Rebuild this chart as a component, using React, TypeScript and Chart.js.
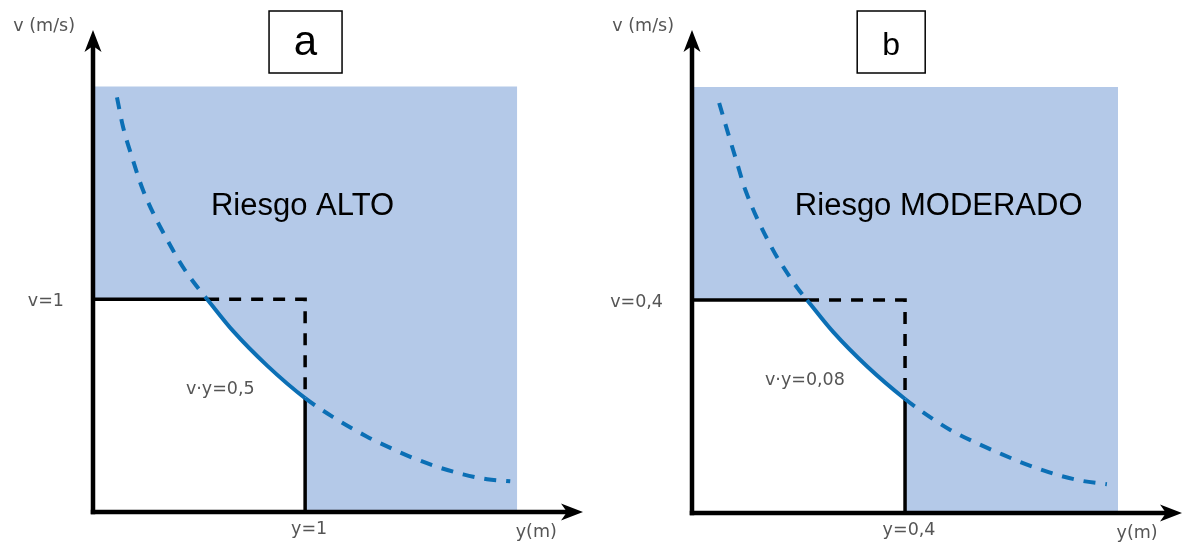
import React, { useEffect, useRef } from "react";
import { Chart, registerables } from "chart.js";

Chart.register(...registerables);

// ---------- Panel a (v·y = 0,5) ----------
const depthA = [0.113, 0.142, 0.184, 0.236, 0.377, 0.434, 0.505, 0.538, 0.66, 0.821, 1.0, 1.132, 1.292, 1.415, 1.509, 1.627, 1.745, 1.858, 1.967];
const velocityA = [1.948, 1.808, 1.667, 1.512, 1.23, 1.136, 1.04, 1.0, 0.851, 0.688, 0.535, 0.446, 0.354, 0.295, 0.254, 0.211, 0.177, 0.154, 0.144];
const limitA = { depth: 1, velocity: 1 };
const zoneA = 2;
const axisMaxA = { x: 2.31, y: 2.265 };
const labelsA = ["v (m/s)", "v=1", "v·y=0,5", "y=1", "y(m)"];
const riskA = "Riesgo ALTO";
const panelNameA = "a";

// ---------- Panel b (v·y = 0,08) ----------
const depthB = [0.051, 0.066, 0.085, 0.1, 0.152, 0.178, 0.199, 0.216, 0.265, 0.329, 0.4, 0.434, 0.485, 0.535, 0.578, 0.616, 0.654, 0.695, 0.734, 0.779];
const velocityB = [0.77, 0.719, 0.656, 0.607, 0.494, 0.452, 0.421, 0.4, 0.34, 0.275, 0.214, 0.189, 0.156, 0.131, 0.112, 0.096, 0.082, 0.069, 0.06, 0.054];
const limitB = { depth: 0.4, velocity: 0.4 };
const zoneB = 0.8;
const axisMaxB = { x: 0.92, y: 0.907 };
const labelsB = ["v (m/s)", "v=0,4", "v·y=0,08", "y=0,4", "y(m)"];
const riskB = "Riesgo MODERADO";
const panelNameB = "b";

const BLUE_ZONE = "rgb(180,201,232)";
const CURVE = "#0b6fb5";
const LABEL = "#555555";
const SANS = "'Liberation Sans', Arial, sans-serif";
const DEJAVU = "'DejaVu Sans', sans-serif";

type PanelCfg = {
  depth: number[];
  velocity: number[];
  limit: { depth: number; velocity: number };
  zone: number;
  axisMax: { x: number; y: number };
  labels: string[];
  risk: string;
  name: string;
  unit: number;
  padding: { left: number; right: number; top: number; bottom: number };
  nameFont: number;
  productAt: { x: number; y: number };
  riskAt: { x: number; y: number };
  boxAt: number;
  boxW: number;
};

function buildConfig(p: PanelCfg): any {
  const pts = p.depth.map((d, i) => ({ x: d, y: p.velocity[i] }));
  const iStart = pts.findIndex((q) => Math.abs(q.y - p.limit.velocity) < 1e-9);
  const iEnd = pts.findIndex((q) => Math.abs(q.x - p.limit.depth) < 1e-9);
  const cross1 = pts[iStart];
  const cross2 = pts[iEnd];
  const u = p.unit;

  const overlay = {
    id: "overlay" + p.name,
    afterDatasetsDraw(chart: any) {
      const { ctx, scales } = chart;
      const xs = scales.x;
      const ys = scales.y;
      const px = (v: number) => xs.getPixelForValue(v);
      const py = (v: number) => ys.getPixelForValue(v);
      const ox = px(0);
      const oy = py(0);
      const tx = px(p.axisMax.x);
      const ty = py(p.axisMax.y);
      ctx.save();
      // arrowheads
      ctx.fillStyle = "#000";
      ctx.beginPath();
      ctx.moveTo(ox, ty);
      ctx.lineTo(ox + 8.5, ty + 22);
      ctx.lineTo(ox, ty + 16);
      ctx.lineTo(ox - 8.5, ty + 22);
      ctx.closePath();
      ctx.fill();
      ctx.beginPath();
      ctx.moveTo(tx, oy);
      ctx.lineTo(tx - 22, oy - 8.5);
      ctx.lineTo(tx - 16, oy);
      ctx.lineTo(tx - 22, oy + 8.5);
      ctx.closePath();
      ctx.fill();

      // small labels
      ctx.fillStyle = LABEL;
      ctx.font = `17.5px ${DEJAVU}`;
      ctx.textBaseline = "middle";
      const [lAxisV, lV, lProd, lY, lAxisY] = p.labels;
      ctx.textAlign = "right";
      ctx.fillText(lAxisV, ox - 18, ty - 4);
      ctx.fillText(lV, ox - 29, py(p.limit.velocity) + 2);
      ctx.textAlign = "center";
      ctx.fillText(lProd, px(p.productAt.x * u), py(p.productAt.y * u));
      ctx.fillText(lY, px(p.limit.depth) + 4, oy + 17);
      ctx.fillText(lAxisY, px(p.zone) + 19, oy + 20);

      // risk text
      ctx.fillStyle = "#000";
      ctx.font = `31px ${SANS}`;
      ctx.textBaseline = "alphabetic";
      ctx.textAlign = "center";
      ctx.fillText(p.risk, px(p.riskAt.x * u), py(p.riskAt.y * u));

      // panel name box
      const bx = px(p.boxAt * u);
      const by = 42;
      const bw = p.boxW;
      const bh = 62;
      ctx.fillStyle = "#fff";
      ctx.fillRect(bx - bw / 2, by - bh / 2, bw, bh);
      ctx.strokeStyle = "#000";
      ctx.lineWidth = 1.5;
      ctx.strokeRect(bx - bw / 2, by - bh / 2, bw, bh);
      ctx.fillStyle = "#000";
      ctx.font = `${p.nameFont}px ${SANS}`;
      ctx.textBaseline = "alphabetic";
      ctx.fillText(p.name, bx, 55);
      ctx.restore();
    },
  };

  const dash = [12, 10];
  const overlap = 0.006 * u;
  return {
    type: "line",
    data: {
      datasets: [
        // axes
        {
          data: [{ x: 0, y: 0 }, { x: 0, y: p.axisMax.y * 0.97 }],
          borderColor: "#000",
          borderWidth: 4.5,
          borderCapStyle: "square",
        },
        {
          data: [{ x: 0, y: 0 }, { x: p.axisMax.x * 0.97, y: 0 }],
          borderColor: "#000",
          borderWidth: 4.5,
          borderCapStyle: "square",
        },
        // hazard curve (solid between the two limits, dashed elsewhere)
        {
          data: pts,
          borderColor: CURVE,
          borderWidth: 4,
          borderDash: dash,
          cubicInterpolationMode: "monotone",
          segment: {
            borderDash: (ctx: any) =>
              ctx.p0DataIndex >= iStart && ctx.p1DataIndex <= iEnd ? [] : undefined,
          },
        },
        // limit lines
        {
          data: [{ x: 0, y: p.limit.velocity }, { x: cross1.x, y: p.limit.velocity }],
          borderColor: "#000",
          borderWidth: 3.5,
        },
        {
          data: [
            { x: cross1.x, y: p.limit.velocity },
            { x: p.limit.depth, y: p.limit.velocity },
            { x: p.limit.depth, y: cross2.y },
          ],
          borderColor: "#000",
          borderWidth: 3.5,
          borderDash: dash,
          borderJoinStyle: "miter",
        },
        {
          data: [{ x: p.limit.depth, y: cross2.y }, { x: p.limit.depth, y: 0 }],
          borderColor: "#000",
          borderWidth: 3.5,
        },
        // white safe area
        {
          data: pts.slice(iStart, iEnd + 1),
          borderWidth: 0,
          borderColor: "rgba(0,0,0,0)",
          backgroundColor: "#fff",
          fill: "origin",
          cubicInterpolationMode: "monotone",
        },
        {
          data: [{ x: 0, y: p.limit.velocity }, { x: cross1.x + overlap, y: p.limit.velocity }],
          borderWidth: 0,
          borderColor: "rgba(0,0,0,0)",
          backgroundColor: "#fff",
          fill: "origin",
        },
        // blue risk zone
        {
          data: [{ x: 0, y: p.zone }, { x: p.zone, y: p.zone }],
          borderWidth: 0,
          borderColor: "rgba(0,0,0,0)",
          backgroundColor: BLUE_ZONE,
          fill: "origin",
        },
      ].map((d: any) => ({ pointRadius: 0, clip: false, tension: 0, ...d })),
    },
    options: {
      responsive: false,
      animation: false,
      events: [],
      layout: { padding: p.padding },
      plugins: { legend: { display: false }, tooltip: { enabled: false }, title: { display: false } },
      scales: {
        x: { type: "linear", min: 0, max: p.axisMax.x, display: false },
        y: { type: "linear", min: 0, max: p.axisMax.y, display: false },
      },
    },
    plugins: [overlay],
  };
}

function Panel({ cfg, left, width }: { cfg: PanelCfg; left: number; width: number }) {
  const ref = useRef<HTMLCanvasElement | null>(null);
  useEffect(() => {
    if (!ref.current) return;
    const chart = new Chart(ref.current, buildConfig(cfg));
    return () => chart.destroy();
  }, []);
  return (
    <div style={{ position: "absolute", left, top: 0, width, height: 544 }}>
      <canvas ref={ref} width={width} height={544} style={{ display: "block" }} />
    </div>
  );
}

const panelA: PanelCfg = {
  depth: depthA,
  velocity: velocityA,
  limit: { depth: limitA.depth, velocity: limitA.velocity },
  zone: zoneA,
  axisMax: axisMaxA,
  labels: labelsA,
  risk: riskA,
  name: panelNameA,
  unit: 1,
  padding: { left: 93, right: 12, top: 30, bottom: 32 },
  nameFont: 42,
  productAt: { x: 0.6, y: 0.575 },
  riskAt: { x: 0.988, y: 1.394 },
  boxAt: 1.002,
  boxW: 73,
};

const panelB: PanelCfg = {
  depth: depthB,
  velocity: velocityB,
  limit: { depth: limitB.depth, velocity: limitB.velocity },
  zone: zoneB,
  axisMax: axisMaxB,
  labels: labelsB,
  risk: riskB,
  name: panelNameB,
  unit: 0.4,
  padding: { left: 97, right: 7, top: 30, bottom: 31 },
  nameFont: 32,
  productAt: { x: 0.53, y: 0.62 },
  riskAt: { x: 1.158, y: 1.4 },
  boxAt: 0.935,
  boxW: 68,
};

export default function App() {
  return (
    <div style={{ position: "absolute", left: 0, top: 0, width: 1189, height: 544, background: "#fff" }}>
      <Panel cfg={panelA} left={0} width={595} />
      <Panel cfg={panelB} left={595} width={594} />
    </div>
  );
}
